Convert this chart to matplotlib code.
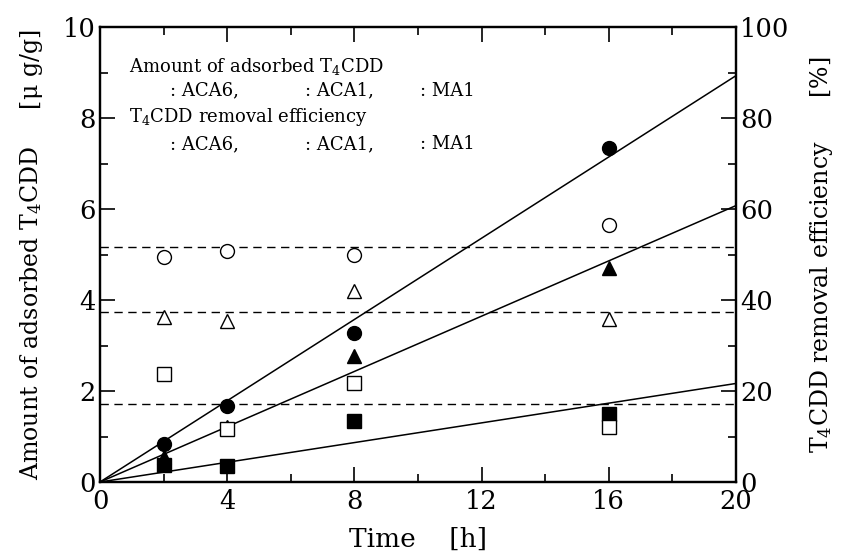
import numpy as np
import matplotlib
matplotlib.use("Agg")
import matplotlib.pyplot as plt
from matplotlib.ticker import MultipleLocator

plt.rcParams['font.family'] = ['DejaVu Serif']
plt.rcParams['mathtext.fontset'] = 'dejavuserif'

# time [h]
time = [2, 4, 8, 16]

# amount of adsorbed T4CDD [ug/g]
ads_aca6 = [0.83, 1.68, 3.27, 7.33]
ads_aca1 = [0.56, 1.20, 2.77, 4.70]
ads_ma1 = [0.37, 0.36, 1.35, 1.49]

# removal efficiency [%]
eff_aca6 = [49.5, 50.8, 50.0, 56.4]
eff_aca1 = [36.2, 35.4, 42.0, 35.8]
eff_ma1 = [23.7, 11.6, 21.7, 12.0]

legend_names = ['ACA6,', 'ACA1,', 'MA1']

t = np.array(time)

fig = plt.figure(figsize=(8.41, 5.58), dpi=100)
ax = fig.add_axes([100/841, 76/558, 636/841, 455/558])
ax2 = ax.twinx()

# fitted lines through the origin
xx = np.array([0, 20])
for y in (ads_aca6, ads_aca1, ads_ma1):
    k = np.sum(t*np.array(y))/np.sum(t*t)
    ax.plot(xx, k*xx, color='black', lw=1.1, zorder=2)

# mean removal efficiency (dashed)
for e in (eff_aca6, eff_aca1, eff_ma1):
    ax2.axhline(np.mean(e), color='black', lw=1.0, ls=(0, (6, 4)), zorder=1)

ms = 10
ax.plot(time, ads_aca1, '^', color='black', ms=ms, ls='none', zorder=3)
ax.plot(time, ads_ma1, 's', color='black', ms=ms-0.5, ls='none', zorder=3)
ax.plot(time, ads_aca6, 'o', color='black', ms=ms, ls='none', zorder=4)

ax2.plot(time, eff_aca6, 'o', mfc='white', mec='black', mew=1.0, ms=ms, ls='none')
ax2.plot(time, eff_aca1, '^', mfc='white', mec='black', mew=1.0, ms=ms, ls='none')
ax2.plot(time, eff_ma1, 's', mfc='white', mec='black', mew=1.0, ms=ms-0.5, ls='none')

ax.set_xlim(0, 20)
ax.set_ylim(0, 10)
ax2.set_ylim(0, 100)

ax.xaxis.set_major_locator(MultipleLocator(4))
ax.xaxis.set_minor_locator(MultipleLocator(2))
ax.yaxis.set_major_locator(MultipleLocator(2))
ax.yaxis.set_minor_locator(MultipleLocator(1))
ax2.yaxis.set_major_locator(MultipleLocator(20))
ax2.yaxis.set_minor_locator(MultipleLocator(10))

ax.tick_params(which='both', direction='in', top=True, right=False, labelsize=18.5, width=1.2)
ax.tick_params(which='major', length=11, pad=3)
ax.tick_params(which='minor', length=6)
ax.tick_params(axis='x', which='major', pad=5)
ax2.tick_params(which='both', direction='in', labelsize=18.5, width=1.2)
ax2.tick_params(which='major', length=11, pad=3)
ax2.tick_params(which='minor', length=6)
for a in (ax, ax2):
    for s in a.spines.values():
        s.set_linewidth(1.6)

ax.set_xlabel('Time    [h]', fontsize=19, labelpad=9)
ax.set_ylabel('Amount of adsorbed T$_4$CDD     [\u03bc g/g]', fontsize=17, labelpad=13)
ax2.set_ylabel('T$_4$CDD removal efficiency      [%]', fontsize=17, labelpad=13)

fs = 13
ax.text(0.9, 9.13, 'Amount of adsorbed T$_4$CDD', fontsize=fs, va='center')
ax.text(0.9, 8.03, 'T$_4$CDD removal efficiency', fontsize=fs, va='center')
for xpos, name in zip([2.2, 6.45, 10.05], legend_names):
    ax.text(xpos, 8.6, ': ' + name, fontsize=fs, va='center')
    ax.text(xpos, 7.43, ': ' + name, fontsize=fs, va='center')

fig.savefig('out.png', dpi=100)
